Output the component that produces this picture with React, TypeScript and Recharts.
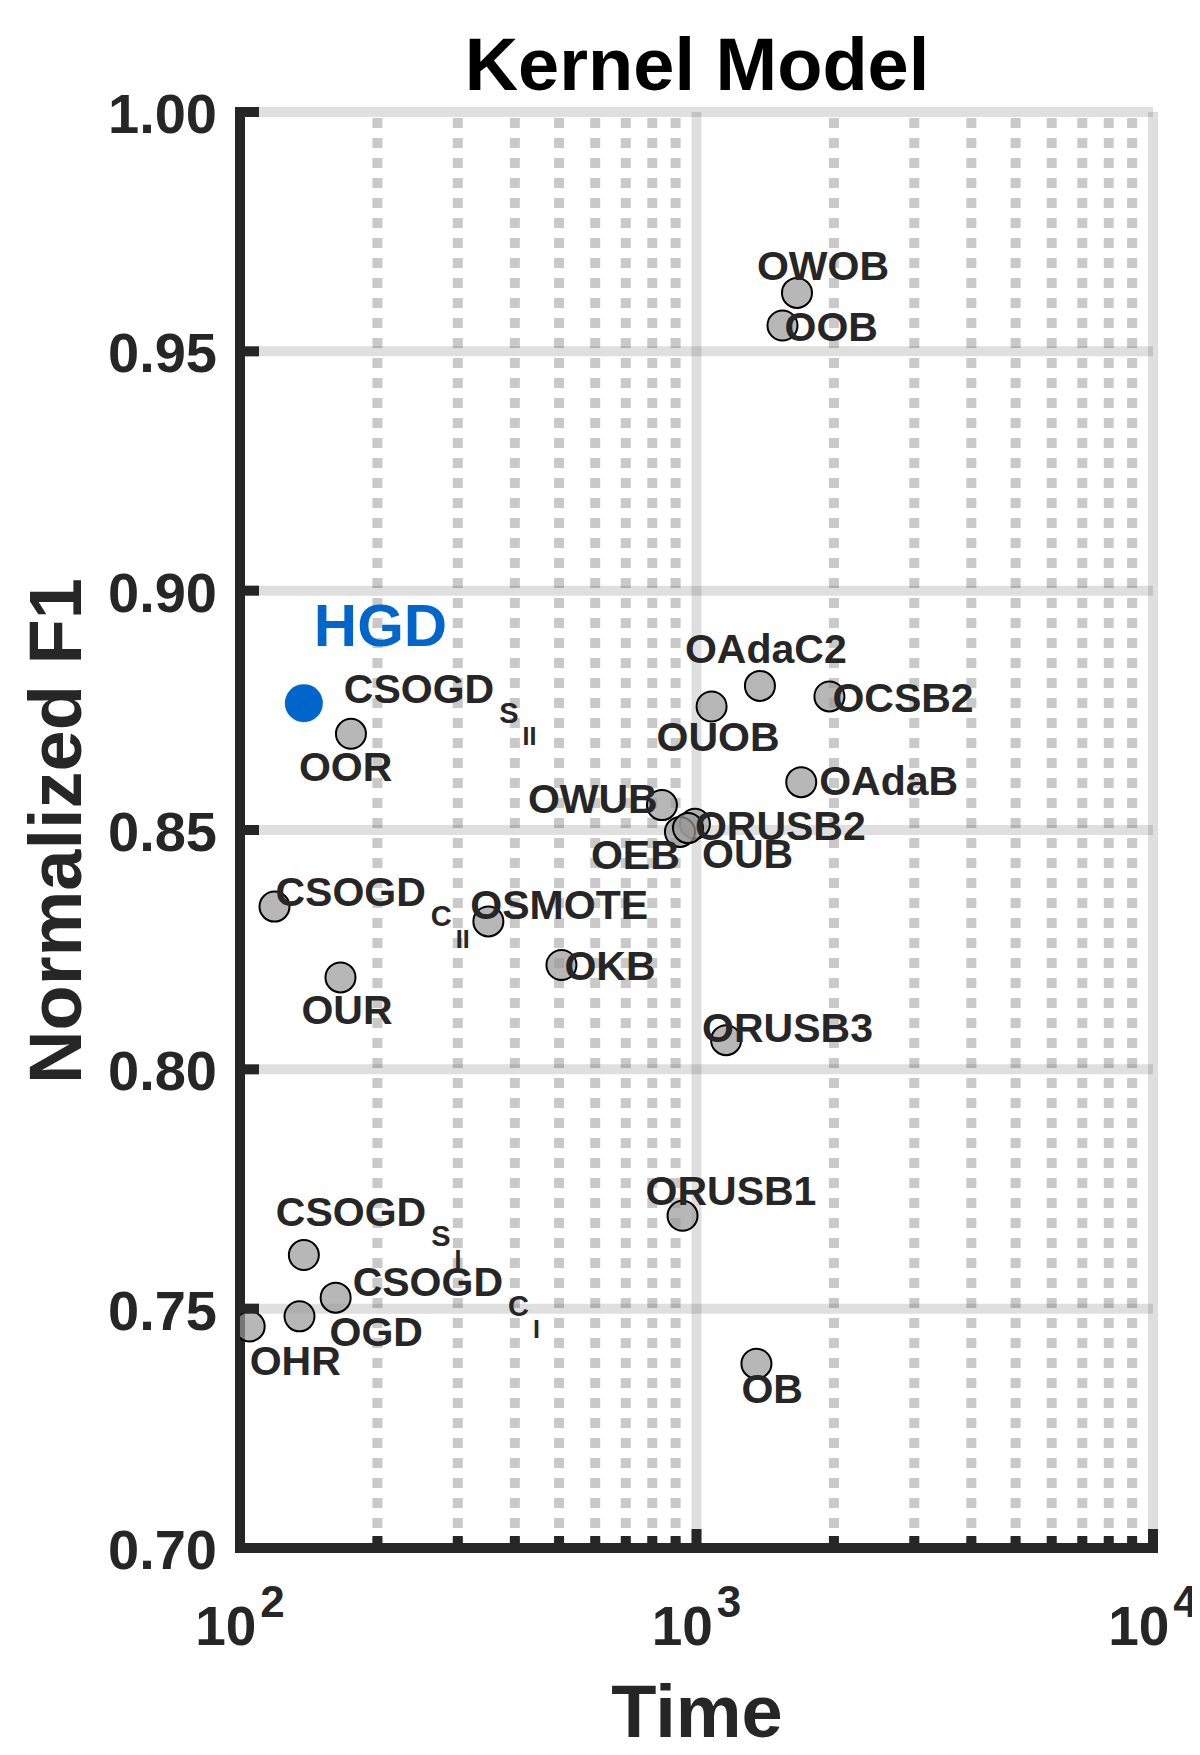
import React from 'react';
import { ScatterChart, Scatter, XAxis, YAxis, ReferenceLine } from 'recharts';

// method keys: base_sub_subsub (subscripts rendered below the base name)
const methods = [
  'OWOB', 'OOB', 'OAdaC2', 'OUOB', 'OCSB2', 'CSOGD_S_II', 'OOR', 'OAdaB',
  'OWUB', 'ORUSB2', 'OEB', 'OUB', 'CSOGD_C_II', 'OSMOTE', 'OKB', 'OUR',
  'ORUSB3', 'ORUSB1', 'CSOGD_S_I', 'CSOGD_C_I', 'OGD', 'OHR', 'OB',
];
const times = [
  1660, 1543, 1377, 1079, 1955, 138, 175, 1696,
  840, 992, 920, 958, 119, 350, 506, 166,
  1161, 932, 138, 162, 135, 105, 1353,
];
const scores = [
  0.9622, 0.9554, 0.8801, 0.8758, 0.8779, 0.8765, 0.8701, 0.86,
  0.8552, 0.8513, 0.8496, 0.8504, 0.834, 0.8309, 0.8218, 0.8192,
  0.8061, 0.7694, 0.7612, 0.7523, 0.7484, 0.7463, 0.7385,
];

const oursName = 'HGD';
const oursTime = 138;
const oursScore = 0.8765;

const yTicks = [0.7, 0.75, 0.8, 0.85, 0.9, 0.95, 1.0];
const majorX = [100, 1000, 10000];
const minorX = [200, 300, 400, 500, 600, 700, 800, 900, 2000, 3000, 4000, 5000, 6000, 7000, 8000, 9000];
const xTicks = [...majorX, ...minorX].sort((a, b) => a - b);

// where each label sits relative to its marker (left edge, vertical centre)
const labelOffsets: Record<string, [number, number]> = {
  OWOB: [-40, -28], OOB: [2, 1], OAdaC2: [-75, -38], OUOB: [-55, 30],
  OCSB2: [3, 1], CSOGD_S_II: [40, -15], OOR: [-52, 33], OAdaB: [18, -2],
  OWUB: [-134, -7], ORUSB2: [0, 2], OEB: [-89, 22], OUB: [14, 25],
  CSOGD_C_II: [1, -15], OSMOTE: [-18, -17], OKB: [3, 0], OUR: [-39, 32],
  ORUSB3: [-24, -13], ORUSB1: [-37, -25], CSOGD_S_I: [-28, -44], CSOGD_C_I: [17, -16],
  OGD: [30, 15], OHR: [0, 34], OB: [-15, 25], HGD: [10, -79],
};

const points = methods.map((key, i) => ({ key, time: times[i], f1: scores[i] }));
const ours = [{ key: oursName, time: oursTime, f1: oursScore }];

const ink = '#262626';
const blue = '#0066cc';
const font = '"Liberation Sans", Arial, Helvetica, sans-serif';

const W = 1184;
const H = 1739;
const margin = { top: 104, right: 39, bottom: 99, left: 132 };

const GrayDot = (props: any) => (
  <circle cx={props.cx} cy={props.cy} r={15} fill="#999999" fillOpacity={0.7} stroke="#000" strokeWidth={2} />
);

const BlueDot = (props: any) => <circle cx={props.cx} cy={props.cy} r={19} fill={blue} />;

const MethodLabel = (props: any) => {
  const { cx, cy, payload } = props;
  const [dx, dy] = labelOffsets[payload.key] ?? [0, 0];
  const [base, sub, subsub] = String(payload.key).split('_');
  const isOurs = payload.key === oursName;
  const size = isOurs ? 60 : 41;
  return (
    <text
      x={cx + dx}
      y={cy + dy + size * 0.358}
      fontSize={size}
      fontWeight="bold"
      fontFamily={font}
      fill={isOurs ? blue : ink}
    >
      {base}
      {sub && (
        <tspan dx={5} dy={20} fontSize={29}>
          {sub}
        </tspan>
      )}
      {subsub && (
        <tspan dx={4} dy={22} fontSize={25}>
          {subsub}
        </tspan>
      )}
    </text>
  );
};

const TimeTick = (props: any) => {
  const { x, y, payload } = props;
  const exp = Math.log10(payload.value);
  const major = Math.abs(exp - Math.round(exp)) < 1e-9;
  return (
    <g>
      <line x1={x} y1={y} x2={x} y2={y - (major ? 19 : 12)} stroke={ink} strokeWidth={10} />
      {major && (
        <text x={x} y={y + 97} textAnchor="middle" fontSize={55} fontWeight="bold" fontFamily={font} fill={ink}>
          10
          <tspan dx={4} dy={-28} fontSize={44}>
            {Math.round(exp)}
          </tspan>
        </text>
      )}
    </g>
  );
};

const ScoreTick = (props: any) => {
  const { x, y, payload } = props;
  return (
    <g>
      <line x1={x} y1={y} x2={x + 19} y2={y} stroke={ink} strokeWidth={10} />
      <text x={x - 23} y={y + 21} textAnchor="end" fontSize={56} fontWeight="bold" fontFamily={font} fill={ink}>
        {Number(payload.value).toFixed(2)}
      </text>
    </g>
  );
};

const axisLine = { stroke: ink, strokeWidth: 10, strokeLinecap: 'square' as const };

const App = () => (
  <div style={{ position: 'relative', width: W, height: H }}>
    <ScatterChart width={W} height={H} margin={margin}>
      <XAxis
        type="number"
        dataKey="time"
        scale="log"
        domain={[100, 10000]}
        allowDataOverflow
        ticks={xTicks}
        interval={0}
        height={100}
        tickSize={0}
        tickMargin={0}
        tickLine={false}
        axisLine={axisLine}
        tick={TimeTick}
      />
      <YAxis
        type="number"
        dataKey="f1"
        domain={[0.7, 1.0]}
        allowDataOverflow
        ticks={yTicks}
        interval={0}
        width={100}
        tickSize={0}
        tickMargin={0}
        tickLine={false}
        axisLine={axisLine}
        tick={ScoreTick}
      />
      {minorX.map((v) => (
        <ReferenceLine key={'mx' + v} x={v} stroke={ink} strokeOpacity={0.25} strokeWidth={10} strokeDasharray="10 10" />
      ))}
      {majorX.map((v) => (
        <ReferenceLine key={'Mx' + v} x={v} stroke={ink} strokeOpacity={0.15} strokeWidth={10} />
      ))}
      {yTicks.map((v) => (
        <ReferenceLine key={'y' + v} y={v} stroke={ink} strokeOpacity={0.15} strokeWidth={10} />
      ))}
      <Scatter data={points} shape={GrayDot} isAnimationActive={false} />
      <Scatter data={ours} shape={BlueDot} isAnimationActive={false} />
      <Scatter data={points} shape={MethodLabel} isAnimationActive={false} />
      <Scatter data={ours} shape={MethodLabel} isAnimationActive={false} />
    </ScatterChart>
    <svg width={W} height={1747} style={{ position: 'absolute', left: 0, top: 0, pointerEvents: 'none' }}>
      <text x={689} y={82} textAnchor="middle" fontSize={74} fontWeight="bold" fontFamily={font} fill="#000">
        Kernel Model
      </text>
      <text x={689} y={1729} textAnchor="middle" fontSize={74} fontWeight="bold" fontFamily={font} fill={ink}>
        Time
      </text>
      <text
        x={73}
        y={823}
        transform="rotate(-90 73 823)"
        textAnchor="middle"
        fontSize={74}
        fontWeight="bold"
        fontFamily={font}
        fill={ink}
      >
        Normalized F1
      </text>
    </svg>
  </div>
);

export default App;
